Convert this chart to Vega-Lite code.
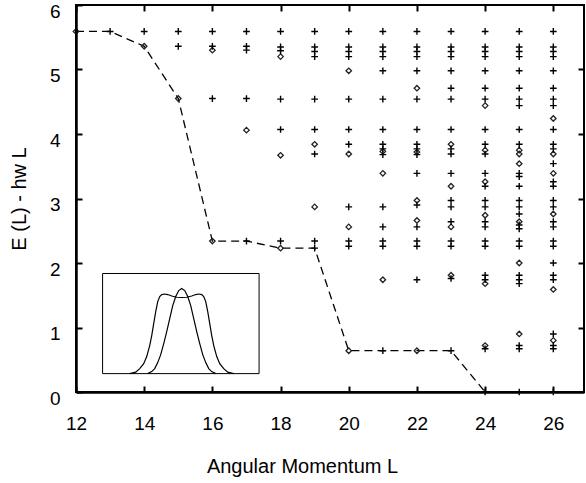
{
  "$schema": "https://vega.github.io/schema/vega-lite/v6.json",
  "width": 508,
  "height": 387,
  "autosize": {"type": "none"},
  "padding": {"left": 76, "top": 5, "right": 2, "bottom": 91},
  "background": "white",
  "config": {
    "view": {"stroke": "black", "strokeWidth": 2},
    "font": "Liberation Sans"
  },
  "datasets": {
    "levels": [
      {"L":12,"E":5.59,"s":"d"},
      {"L":13,"E":5.59,"s":"p"},
      {"L":14,"E":5.59,"s":"p"},{"L":14,"E":5.36,"s":"d"},
      {"L":15,"E":5.59,"s":"p"},{"L":15,"E":5.36,"s":"p"},{"L":15,"E":4.55,"s":"d"},
      {"L":16,"E":5.59,"s":"p"},{"L":16,"E":5.36,"s":"p"},{"L":16,"E":5.30,"s":"d"},{"L":16,"E":4.55,"s":"p"},{"L":16,"E":2.34,"s":"d"},
      {"L":17,"E":5.59,"s":"p"},{"L":17,"E":5.36,"s":"p"},{"L":17,"E":5.30,"s":"p"},{"L":17,"E":4.55,"s":"p"},{"L":17,"E":4.06,"s":"d"},{"L":17,"E":2.34,"s":"p"},
      {"L":18,"E":5.59,"s":"p"},{"L":18,"E":5.35,"s":"p"},{"L":18,"E":5.29,"s":"p"},{"L":18,"E":5.20,"s":"d"},{"L":18,"E":4.54,"s":"p"},{"L":18,"E":4.07,"s":"p"},{"L":18,"E":3.67,"s":"d"},{"L":18,"E":2.34,"s":"p"},{"L":18,"E":2.23,"s":"d"},
      {"L":19,"E":5.59,"s":"p"},{"L":19,"E":5.35,"s":"p"},{"L":19,"E":5.28,"s":"p"},{"L":19,"E":5.20,"s":"p"},{"L":19,"E":4.54,"s":"p"},{"L":19,"E":4.07,"s":"p"},{"L":19,"E":3.84,"s":"d"},{"L":19,"E":3.69,"s":"p"},{"L":19,"E":2.87,"s":"d"},{"L":19,"E":2.34,"s":"p"},{"L":19,"E":2.23,"s":"p"},
      {"L":20,"E":5.59,"s":"p"},{"L":20,"E":5.35,"s":"p"},{"L":20,"E":5.28,"s":"p"},{"L":20,"E":5.20,"s":"p"},{"L":20,"E":4.98,"s":"d"},{"L":20,"E":4.54,"s":"p"},{"L":20,"E":4.07,"s":"p"},{"L":20,"E":3.84,"s":"p"},{"L":20,"E":3.69,"s":"d"},{"L":20,"E":2.87,"s":"p"},{"L":20,"E":2.56,"s":"d"},{"L":20,"E":2.34,"s":"p"},{"L":20,"E":2.26,"s":"p"},{"L":20,"E":0.64,"s":"d"},
      {"L":21,"E":5.59,"s":"p"},{"L":21,"E":5.35,"s":"p"},{"L":21,"E":5.28,"s":"p"},{"L":21,"E":5.20,"s":"p"},{"L":21,"E":4.98,"s":"p"},{"L":21,"E":4.54,"s":"p"},{"L":21,"E":4.07,"s":"p"},{"L":21,"E":3.84,"s":"p"},{"L":21,"E":3.77,"s":"p"},{"L":21,"E":3.73,"s":"d"},{"L":21,"E":3.68,"s":"p"},{"L":21,"E":3.39,"s":"d"},{"L":21,"E":2.87,"s":"p"},{"L":21,"E":2.56,"s":"p"},{"L":21,"E":2.34,"s":"p"},{"L":21,"E":2.26,"s":"p"},{"L":21,"E":1.74,"s":"d"},{"L":21,"E":0.64,"s":"p"},
      {"L":22,"E":5.59,"s":"p"},{"L":22,"E":5.35,"s":"p"},{"L":22,"E":5.28,"s":"p"},{"L":22,"E":5.20,"s":"p"},{"L":22,"E":4.98,"s":"p"},{"L":22,"E":4.71,"s":"d"},{"L":22,"E":4.54,"s":"p"},{"L":22,"E":4.07,"s":"p"},{"L":22,"E":3.84,"s":"p"},{"L":22,"E":3.77,"s":"p"},{"L":22,"E":3.72,"s":"d"},{"L":22,"E":3.68,"s":"p"},{"L":22,"E":3.39,"s":"p"},{"L":22,"E":2.97,"s":"d"},{"L":22,"E":2.90,"s":"p"},{"L":22,"E":2.66,"s":"d"},{"L":22,"E":2.56,"s":"p"},{"L":22,"E":2.34,"s":"p"},{"L":22,"E":2.26,"s":"p"},{"L":22,"E":1.74,"s":"p"},{"L":22,"E":0.64,"s":"d"},
      {"L":23,"E":5.59,"s":"p"},{"L":23,"E":5.35,"s":"p"},{"L":23,"E":5.28,"s":"p"},{"L":23,"E":5.20,"s":"p"},{"L":23,"E":4.98,"s":"p"},{"L":23,"E":4.71,"s":"p"},{"L":23,"E":4.54,"s":"p"},{"L":23,"E":4.07,"s":"p"},{"L":23,"E":3.84,"s":"d"},{"L":23,"E":3.77,"s":"p"},{"L":23,"E":3.69,"s":"p"},{"L":23,"E":3.39,"s":"p"},{"L":23,"E":3.19,"s":"d"},{"L":23,"E":2.97,"s":"p"},{"L":23,"E":2.87,"s":"p"},{"L":23,"E":2.64,"s":"p"},{"L":23,"E":2.56,"s":"d"},{"L":23,"E":2.34,"s":"p"},{"L":23,"E":2.26,"s":"p"},{"L":23,"E":1.81,"s":"d"},{"L":23,"E":1.76,"s":"p"},{"L":23,"E":0.64,"s":"p"},
      {"L":24,"E":5.59,"s":"p"},{"L":24,"E":5.35,"s":"p"},{"L":24,"E":5.28,"s":"p"},{"L":24,"E":5.20,"s":"p"},{"L":24,"E":4.98,"s":"p"},{"L":24,"E":4.71,"s":"p"},{"L":24,"E":4.54,"s":"p"},{"L":24,"E":4.44,"s":"d"},{"L":24,"E":4.07,"s":"p"},{"L":24,"E":3.84,"s":"p"},{"L":24,"E":3.75,"s":"d"},{"L":24,"E":3.69,"s":"p"},{"L":24,"E":3.39,"s":"p"},{"L":24,"E":3.26,"s":"d"},{"L":24,"E":3.19,"s":"p"},{"L":24,"E":2.97,"s":"p"},{"L":24,"E":2.87,"s":"p"},{"L":24,"E":2.74,"s":"d"},{"L":24,"E":2.64,"s":"p"},{"L":24,"E":2.56,"s":"p"},{"L":24,"E":2.34,"s":"p"},{"L":24,"E":2.26,"s":"p"},{"L":24,"E":1.81,"s":"p"},{"L":24,"E":1.74,"s":"p"},{"L":24,"E":1.68,"s":"d"},{"L":24,"E":0.72,"s":"d"},{"L":24,"E":0.67,"s":"p"},{"L":24,"E":0.0,"s":"p"},
      {"L":25,"E":5.59,"s":"p"},{"L":25,"E":5.35,"s":"p"},{"L":25,"E":5.28,"s":"p"},{"L":25,"E":5.20,"s":"p"},{"L":25,"E":4.98,"s":"p"},{"L":25,"E":4.71,"s":"p"},{"L":25,"E":4.54,"s":"p"},{"L":25,"E":4.44,"s":"p"},{"L":25,"E":4.07,"s":"p"},{"L":25,"E":3.84,"s":"p"},{"L":25,"E":3.75,"s":"d"},{"L":25,"E":3.69,"s":"d"},{"L":25,"E":3.54,"s":"d"},{"L":25,"E":3.39,"s":"p"},{"L":25,"E":3.34,"s":"p"},{"L":25,"E":3.19,"s":"p"},{"L":25,"E":2.97,"s":"p"},{"L":25,"E":2.87,"s":"p"},{"L":25,"E":2.76,"s":"p"},{"L":25,"E":2.64,"s":"d"},{"L":25,"E":2.59,"s":"p"},{"L":25,"E":2.53,"s":"p"},{"L":25,"E":2.34,"s":"p"},{"L":25,"E":2.26,"s":"p"},{"L":25,"E":2.00,"s":"d"},{"L":25,"E":1.81,"s":"p"},{"L":25,"E":1.74,"s":"p"},{"L":25,"E":1.68,"s":"p"},{"L":25,"E":0.90,"s":"d"},{"L":25,"E":0.72,"s":"p"},{"L":25,"E":0.67,"s":"p"},{"L":25,"E":0.0,"s":"p"},
      {"L":26,"E":5.59,"s":"p"},{"L":26,"E":5.35,"s":"p"},{"L":26,"E":5.28,"s":"p"},{"L":26,"E":5.20,"s":"p"},{"L":26,"E":4.98,"s":"p"},{"L":26,"E":4.71,"s":"p"},{"L":26,"E":4.54,"s":"p"},{"L":26,"E":4.44,"s":"p"},{"L":26,"E":4.24,"s":"d"},{"L":26,"E":4.07,"s":"p"},{"L":26,"E":3.84,"s":"p"},{"L":26,"E":3.77,"s":"p"},{"L":26,"E":3.69,"s":"d"},{"L":26,"E":3.54,"s":"p"},{"L":26,"E":3.39,"s":"d"},{"L":26,"E":3.26,"s":"p"},{"L":26,"E":3.19,"s":"p"},{"L":26,"E":2.97,"s":"p"},{"L":26,"E":2.87,"s":"p"},{"L":26,"E":2.76,"s":"d"},{"L":26,"E":2.64,"s":"p"},{"L":26,"E":2.56,"s":"p"},{"L":26,"E":2.34,"s":"p"},{"L":26,"E":2.26,"s":"p"},{"L":26,"E":2.00,"s":"p"},{"L":26,"E":1.81,"s":"p"},{"L":26,"E":1.74,"s":"p"},{"L":26,"E":1.59,"s":"d"},{"L":26,"E":0.90,"s":"p"},{"L":26,"E":0.80,"s":"d"},{"L":26,"E":0.72,"s":"p"},{"L":26,"E":0.67,"s":"p"},{"L":26,"E":0.0,"s":"p"}
    ],
    "yrast": [
      {"L":12,"E":5.59},{"L":13,"E":5.59},{"L":14,"E":5.36},{"L":15,"E":4.55},{"L":16,"E":2.34},{"L":17,"E":2.34},{"L":18,"E":2.23},{"L":19,"E":2.23},{"L":20,"E":0.64},{"L":21,"E":0.64},{"L":22,"E":0.64},{"L":23,"E":0.64},{"L":24,"E":0.0}
    ],
    "box": [{"x1":12.78,"x2":17.37,"y1":0.285,"y2":1.837}],
    "inset": [
      {"c":"a","X":13.575,"Y":0.285},{"c":"a","X":13.751,"Y":0.308},{"c":"a","X":13.869,"Y":0.363},{"c":"a","X":13.986,"Y":0.440},{"c":"a","X":14.074,"Y":0.549},{"c":"a","X":14.162,"Y":0.720},{"c":"a","X":14.221,"Y":0.875},{"c":"a","X":14.279,"Y":1.061},{"c":"a","X":14.338,"Y":1.247},{"c":"a","X":14.397,"Y":1.402},{"c":"a","X":14.456,"Y":1.480},{"c":"a","X":14.514,"Y":1.511},{"c":"a","X":14.602,"Y":1.519},{"c":"a","X":14.690,"Y":1.511},{"c":"a","X":14.808,"Y":1.488},{"c":"a","X":14.954,"Y":1.469},{"c":"a","X":15.101,"Y":1.465},{"c":"a","X":15.248,"Y":1.469},{"c":"a","X":15.394,"Y":1.488},{"c":"a","X":15.512,"Y":1.511},{"c":"a","X":15.600,"Y":1.519},{"c":"a","X":15.688,"Y":1.511},{"c":"a","X":15.746,"Y":1.480},{"c":"a","X":15.805,"Y":1.402},{"c":"a","X":15.864,"Y":1.247},{"c":"a","X":15.923,"Y":1.061},{"c":"a","X":15.981,"Y":0.875},{"c":"a","X":16.040,"Y":0.720},{"c":"a","X":16.128,"Y":0.549},{"c":"a","X":16.216,"Y":0.440},{"c":"a","X":16.333,"Y":0.363},{"c":"a","X":16.451,"Y":0.308},{"c":"a","X":16.627,"Y":0.285},
      {"c":"b","X":14.103,"Y":0.285},{"c":"b","X":14.221,"Y":0.316},{"c":"b","X":14.309,"Y":0.363},{"c":"b","X":14.397,"Y":0.456},{"c":"b","X":14.485,"Y":0.580},{"c":"b","X":14.573,"Y":0.751},{"c":"b","X":14.661,"Y":0.937},{"c":"b","X":14.749,"Y":1.139},{"c":"b","X":14.837,"Y":1.340},{"c":"b","X":14.925,"Y":1.480},{"c":"b","X":15.013,"Y":1.573},{"c":"b","X":15.101,"Y":1.604},{"c":"b","X":15.189,"Y":1.573},{"c":"b","X":15.277,"Y":1.480},{"c":"b","X":15.365,"Y":1.340},{"c":"b","X":15.453,"Y":1.139},{"c":"b","X":15.541,"Y":0.937},{"c":"b","X":15.629,"Y":0.751},{"c":"b","X":15.717,"Y":0.580},{"c":"b","X":15.805,"Y":0.456},{"c":"b","X":15.893,"Y":0.363},{"c":"b","X":15.981,"Y":0.316},{"c":"b","X":16.099,"Y":0.285}
    ]
  },
  "layer": [
    {
      "data": {"name": "box"},
      "mark": {"type": "rect", "fill": "white", "stroke": "black", "strokeWidth": 1},
      "encoding": {
        "x": {"field": "x1", "type": "quantitative", "scale": {"domain": [12, 26.9], "nice": false, "zero": false},
          "axis": {"orient": "top", "zindex": 1, "values": [12,14,16,18,20,22,24,26], "labels": false, "title": null, "grid": false, "domain": false, "tickSize": -6, "tickWidth": 2, "tickColor": "black"}},
        "x2": {"field": "x2"},
        "y": {"field": "y1", "type": "quantitative", "scale": {"domain": [0, 6], "nice": false, "zero": false},
          "axis": {"orient": "right", "zindex": 1, "values": [1,2,3,4,5], "labels": false, "title": null, "grid": false, "domain": false, "tickSize": -6, "tickWidth": 2, "tickColor": "black"}},
        "y2": {"field": "y2"}
      }
    },
    {
      "data": {"name": "inset"},
      "mark": {"type": "line", "color": "black", "strokeWidth": 1.2},
      "encoding": {
        "x": {"field": "X", "type": "quantitative", "axis": null},
        "y": {"field": "Y", "type": "quantitative", "axis": null},
        "detail": {"field": "c"}
      }
    },
    {
      "data": {"name": "yrast"},
      "mark": {"type": "line", "color": "black", "strokeWidth": 1.3, "strokeDash": [8, 5]},
      "encoding": {
        "x": {"field": "L", "type": "quantitative", "axis": null},
        "y": {"field": "E", "type": "quantitative", "axis": null}
      }
    },
    {
      "data": {"name": "levels"},
      "transform": [{"filter": "datum.s === 'd'"}],
      "mark": {"type": "point", "shape": "diamond", "size": 30, "filled": false, "color": "#222", "strokeWidth": 1.3, "opacity": 1},
      "encoding": {
        "x": {"field": "L", "type": "quantitative", "axis": null},
        "y": {"field": "E", "type": "quantitative", "axis": null}
      }
    },
    {
      "data": {"name": "levels"},
      "transform": [{"filter": "datum.s === 'p'"}],
      "mark": {"type": "point", "shape": "M-1,0H1M0,-1V1", "size": 45, "filled": false, "color": "black", "strokeWidth": 1.4, "opacity": 1},
      "encoding": {
        "x": {"field": "L", "type": "quantitative",
          "axis": {"orient": "bottom", "zindex": 1, "values": [12,14,16,18,20,22,24,26], "grid": false, "ticks": true, "tickSize": -6, "tickWidth": 2, "tickColor": "black", "domain": true, "domainWidth": 2.5, "domainColor": "black", "labelFlush": false, "labelFont": "Liberation Sans", "labelFontSize": 19, "labelColor": "black", "labelPadding": 28, "title": "Angular Momentum L", "titleFont": "Liberation Sans", "titleFontSize": 20, "titleFontWeight": "normal", "titleColor": "black", "titlePadding": 23, "titleX": 226}},
        "y": {"field": "E", "type": "quantitative",
          "axis": {"orient": "left", "zindex": 1, "values": [0,1,2,3,4,5,6], "grid": false, "ticks": true, "tickSize": -6, "tickWidth": 2, "tickColor": "black", "domain": true, "domainWidth": 2.5, "domainColor": "black", "labelFlush": false, "labelFont": "Liberation Sans", "labelFontSize": 19, "labelColor": "black", "labelPadding": 22, "labelOffset": 6, "title": "E (L) - hw L", "titleFont": "Liberation Sans", "titleFontSize": 20, "titleFontWeight": "normal", "titleColor": "black", "titlePadding": 20}}
      }
    }
  ],
  "resolve": {"axis": {"x": "independent", "y": "independent"}}
}
